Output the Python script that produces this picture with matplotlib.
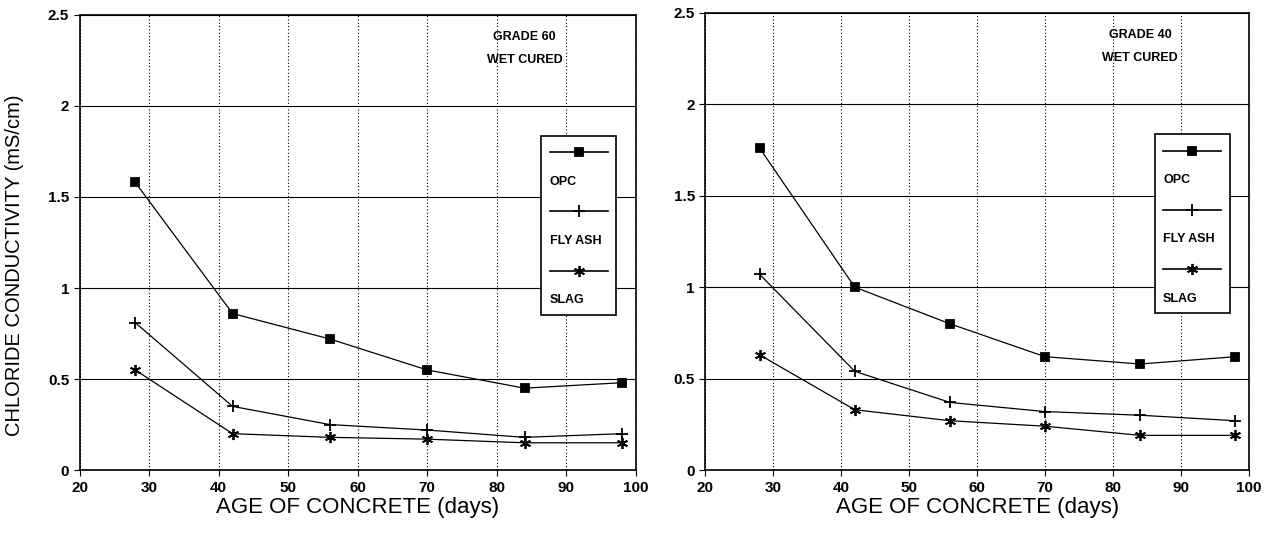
import matplotlib
matplotlib.use("Agg")
import matplotlib.pyplot as plt
from matplotlib.lines import Line2D
from matplotlib.offsetbox import AnchoredOffsetbox, DrawingArea, TextArea, VPacker
from matplotlib.ticker import FormatStrFormatter

plt.rcParams["font.family"] = ["Liberation Sans", "DejaVu Sans"]

age = [28, 42, 56, 70, 84, 98]

g60_opc = [1.58, 0.86, 0.72, 0.55, 0.45, 0.48]
g60_fly = [0.81, 0.35, 0.25, 0.22, 0.18, 0.20]
g60_slag = [0.55, 0.20, 0.18, 0.17, 0.15, 0.15]

g40_opc = [1.76, 1.00, 0.80, 0.62, 0.58, 0.62]
g40_fly = [1.07, 0.54, 0.37, 0.32, 0.30, 0.27]
g40_slag = [0.63, 0.33, 0.27, 0.24, 0.19, 0.19]

names = ["OPC", "FLY ASH", "SLAG"]
markers = ["s", "+", (6, 2, 0)]
msizes = [6, 8, 8]

panels = [
    ("GRADE 60", [g60_opc, g60_fly, g60_slag]),
    ("GRADE 40", [g40_opc, g40_fly, g40_slag]),
]

fig = plt.figure(figsize=(12.64, 5.33), dpi=100)
ax1 = fig.add_axes([0.063, 0.118, 0.440, 0.854])
ax2 = fig.add_axes([0.558, 0.118, 0.430, 0.858])


def make_legend(ax):
    rows = []
    for name, m, ms in zip(names, markers, msizes):
        da = DrawingArea(42, 12, 0, 0)
        da.add_artist(Line2D([0, 21, 42], [6, 6, 6], color="black", lw=1.2,
                             marker=m, markevery=[1], ms=ms, mew=1.3,
                             markerfacecolor="black"))
        rows.append(da)
        rows.append(TextArea(name, textprops=dict(fontsize=9, fontweight="bold")))
    box = VPacker(children=rows, align="left", pad=0, sep=11)
    ab = AnchoredOffsetbox(loc="upper right", child=box, pad=0.6, borderpad=0,
                           bbox_to_anchor=(0.965, 0.735), bbox_transform=ax.transAxes,
                           frameon=True)
    ab.patch.set_edgecolor("black")
    ab.patch.set_linewidth(1.2)
    ax.add_artist(ab)


for ax, (title, series) in zip([ax1, ax2], panels):
    for vals, name, m, ms in zip(series, names, markers, msizes):
        ax.plot(age, vals, color="black", lw=0.9, marker=m, ms=ms, mew=1.3, label=name)
    ax.set_xlim(20, 100)
    ax.set_ylim(0, 2.5)
    ax.set_xticks(range(20, 101, 10))
    ax.set_yticks([0, 0.5, 1, 1.5, 2, 2.5])
    ax.yaxis.set_major_formatter(FormatStrFormatter("%g"))
    ax.grid(axis="y", color="black", lw=0.8, ls="-")
    ax.grid(axis="x", color="black", lw=0.8, ls=(0, (1, 2)))
    ax.tick_params(axis="both", labelsize=11, direction="out", length=4, color="black")
    for lab in ax.get_xticklabels() + ax.get_yticklabels():
        lab.set_fontweight("bold")
    for s in ax.spines.values():
        s.set_linewidth(1.2)
    ax.set_xlabel("AGE OF CONCRETE (days)", fontsize=16, labelpad=2)
    ax.text(0.80, 0.945, title, transform=ax.transAxes, fontsize=9, ha="center", fontweight="bold")
    ax.text(0.80, 0.895, "WET CURED", transform=ax.transAxes, fontsize=9, ha="center", fontweight="bold")
    make_legend(ax)

ax1.set_ylabel("CHLORIDE CONDUCTIVITY (mS/cm)", fontsize=14.5)
ax1.yaxis.set_label_coords(-0.1, 0.45)

fig.savefig("out.png", dpi=100)
